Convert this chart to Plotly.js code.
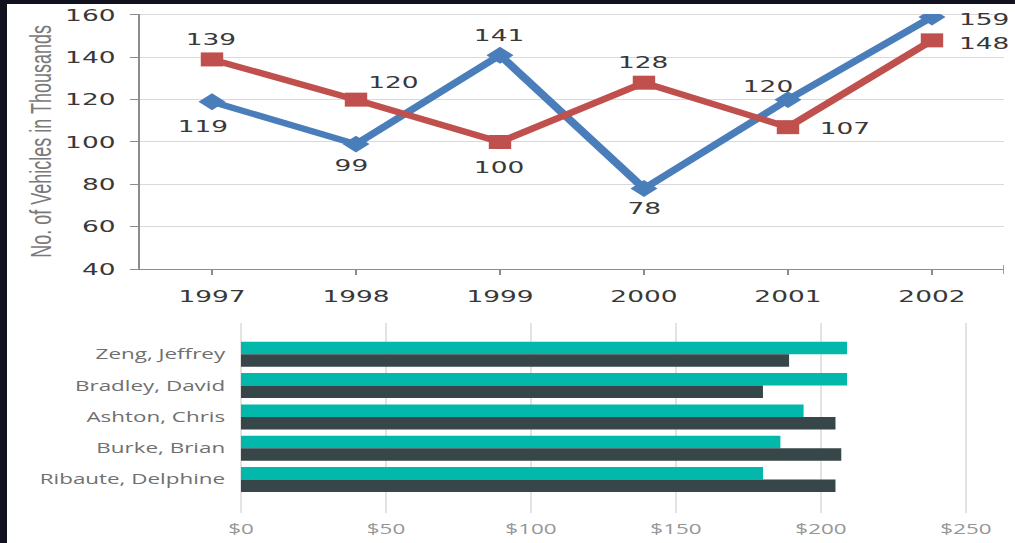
<!DOCTYPE html>
<html><head><meta charset="utf-8">
<script src="https://cdn.plot.ly/plotly-3.0.1.min.js"></script>
<style>
html,body{margin:0;padding:0;background:#fff;overflow:hidden;}
#wrap{width:1015px;height:543px;overflow:hidden;position:relative;}
#chart{width:634px;height:543px;transform:scaleX(1.6009);transform-origin:0 0;}
</style></head><body><div id="wrap"><div id="chart"></div></div>
<script>
// ---- data ----
const years = ['1997', '1998', '1999', '2000', '2001', '2002'];
const vehiclesBlue = [119, 99, 141, 78, 120, 159];
const vehiclesRed = [139, 120, 100, 128, 107, 148];
const vehicleTicks = [40, 60, 80, 100, 120, 140, 160];

const people = ['Zeng, Jeffrey', 'Bradley, David', 'Ashton, Chris', 'Burke, Brian', 'Ribaute, Delphine'];
const amountTeal = [209, 209, 194, 186, 180];
const amountDark = [189, 180, 205, 207, 205];
const moneyTicks = [0, 50, 100, 150, 200, 250];
const moneyLabels = ['$0', '$50', '$100', '$150', '$200', '$250'];

// ---- label placement (style, not data) ----
const blueShift = [[-5, -25], [-3, -21], [0, 20], [0, -20], [-12, 13], [33, -2]];
const redShift = [[0, 20], [24, 17], [0, -26], [0, 20], [36, -1], [33, -3]];

const W = 634, H = 543, FULLW = 1015;
const px = v => v / FULLW;          // horizontal pixel (reference) -> paper
const py = v => 1 - v / H;           // vertical pixel -> paper

const numFont = {family: 'DejaVu Sans, Verdana, sans-serif', size: 16.5, color: '#383838'};
const BLUE = '#4a7ebb', RED = '#c0504d';

const traces = [
  {x: years, y: vehiclesBlue, type: 'scatter', mode: 'lines+markers', xaxis: 'x', yaxis: 'y',
   line: {color: BLUE, width: 6}, marker: {symbol: 'diamond', size: 13, color: BLUE}},
  {x: years, y: vehiclesRed, type: 'scatter', mode: 'lines+markers', xaxis: 'x', yaxis: 'y',
   line: {color: RED, width: 6}, marker: {symbol: 'square', size: 14, color: RED}},
  {y: people, x: amountTeal, type: 'bar', orientation: 'h', xaxis: 'x2', yaxis: 'y2',
   marker: {color: '#01b8aa'}},
  {y: people, x: amountDark, type: 'bar', orientation: 'h', xaxis: 'x2', yaxis: 'y2',
   marker: {color: '#374649'}}
];

// category axis: annotation x is the category's serial index
const annotations = [];
years.forEach((yr, i) => {
  annotations.push({x: i, y: vehiclesBlue[i], xref: 'x', yref: 'y', text: String(vehiclesBlue[i]),
    showarrow: false, xshift: blueShift[i][0], yshift: blueShift[i][1], font: numFont});
  annotations.push({x: i, y: vehiclesRed[i], xref: 'x', yref: 'y', text: String(vehiclesRed[i]),
    showarrow: false, xshift: redShift[i][0], yshift: redShift[i][1], font: numFont});
});

const layout = {
  width: W, height: H, margin: {l: 0, r: 0, t: 0, b: 0},
  paper_bgcolor: '#ffffff', plot_bgcolor: 'rgba(0,0,0,0)',
  showlegend: false, barmode: 'group', bargap: 0.2, bargroupgap: 0,
  xaxis: {domain: [px(140), px(1004)], type: 'category', range: [-0.5, 5.5],
    showgrid: false, showline: true, linecolor: '#8c8c8c', linewidth: 1,
    ticks: 'outside', ticklen: 5, tickcolor: '#8c8c8c', ticklabelstandoff: 7,
    tickfont: numFont, anchor: 'y', fixedrange: true},
  yaxis: {domain: [py(269), py(13.9)], range: [40, 160.5], tickvals: vehicleTicks,
    showgrid: true, gridcolor: '#d9d9d9', gridwidth: 1, zeroline: false,
    showline: true, linecolor: '#8c8c8c', linewidth: 1,
    ticks: 'outside', ticklen: 5, tickcolor: '#8c8c8c', ticklabelstandoff: 6,
    tickfont: numFont, anchor: 'x', automargin: false,
    title: {text: 'No. of Vehicles in Thousands', standoff: 3,
      font: {family: 'Liberation Sans Narrow, Arial Narrow, Liberation Sans, sans-serif', size: 18, color: '#7a7a7a'}}},
  xaxis2: {domain: [px(239.55), px(971.8)], range: [-0.5, 252], tickvals: moneyTicks, ticktext: moneyLabels,
    showgrid: true, gridcolor: '#e3e3e3', gridwidth: 1, zeroline: true, zerolinecolor: '#e3e3e3', zerolinewidth: 1,
    showline: false, ticks: '', ticklabelstandoff: 6,
    tickfont: {family: 'Open Sans, Segoe UI, sans-serif', size: 14, color: '#969696'}, anchor: 'y2'},
  yaxis2: {domain: [py(513), py(323)], type: 'category', range: [5.07, -1.0],
    showgrid: false, showline: false, zeroline: false, ticks: '', ticklabelstandoff: 8,
    tickfont: {family: 'Open Sans, Segoe UI, sans-serif', size: 14, color: '#707070'}, anchor: 'x2'},
  annotations: annotations,
  shapes: [
    // closing tick at the right end of the category axis
    {type: 'line', xref: 'x', yref: 'y', x0: 5.5, x1: 5.5, y0: 40, y1: 40,
     line: {color: '#8c8c8c', width: 1}},
    {type: 'line', xref: 'x', yref: 'paper', x0: 5.5, x1: 5.5, y0: py(274), y1: py(265),
     line: {color: '#8c8c8c', width: 1}},
    {type: 'rect', xref: 'paper', yref: 'paper', x0: 0, x1: px(7), y0: 0, y1: 1,
     fillcolor: '#11111f', line: {width: 0}, layer: 'above'},
    {type: 'rect', xref: 'paper', yref: 'paper', x0: 0, x1: 1, y0: py(4), y1: 1,
     fillcolor: '#11111f', line: {width: 0}, layer: 'above'}
  ]
};

Plotly.newPlot('chart', traces, layout, {staticPlot: true, displayModeBar: false});
</script></body></html>
